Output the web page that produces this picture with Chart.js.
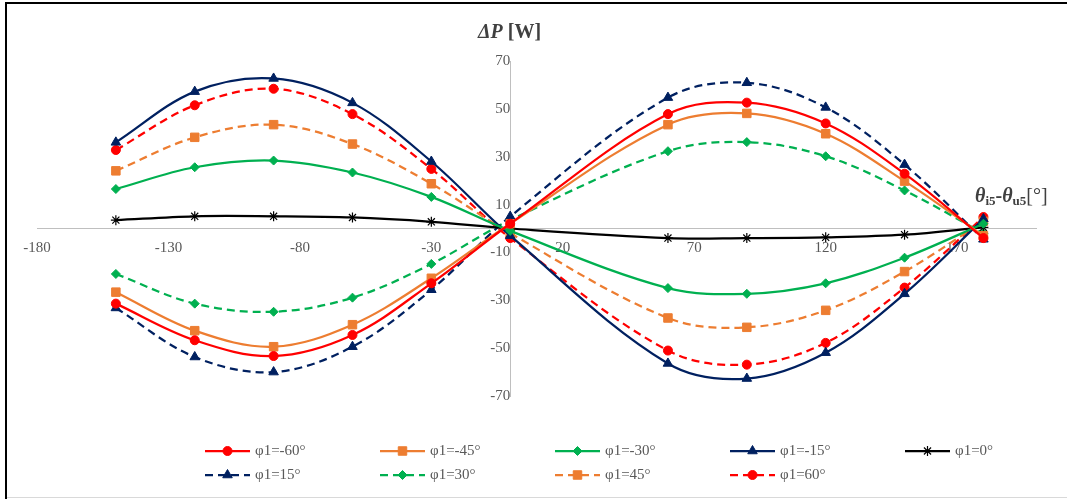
<!DOCTYPE html>
<html lang="en">
<head>
<meta charset="UTF-8">
<title>ΔP vs θi5-θu5</title>
<script src="https://cdn.jsdelivr.net/npm/chart.js"></script>
<style>
  html, body { margin: 0; padding: 0; background: #fff; }
  canvas { display: block; }
</style>
</head>
<body>
<canvas id="dpChart" width="1067" height="499"></canvas>
<script>
// x positions of the measured points (degrees)
const angles = [-150, -120, -90, -60, -30, 0, 60, 90, 120, 150, 180];
const xTicks = [-180, -130, -80, -30, 20, 70, 120, 170];
const yTicks = [-70, -50, -30, -10, 10, 30, 50, 70];

// ΔP [W] per phase angle φ1
const phiM60 = [-31.4, -46.7, -53.3, -44.5, -22.9, 2, 47.8, 52.6, 43.9, 22.9, -4];
const phiM45 = [-26.6, -42.7, -49.4, -40.2, -20.8, 2, 43.4, 48.1, 39.6, 19.8, -3];
const phiM30 = [16.5, 25.6, 28.4, 23.4, 13.2, -1, -24.9, -27.3, -22.9, -12.2, 2];
const phiM15 = [36.0, 57.2, 62.7, 52.5, 28.0, -3, -56.4, -62.7, -51.9, -27.3, 4];
const phi0   = [3.5, 5.1, 5.1, 4.6, 2.8, 0, -4.0, -4.0, -3.7, -2.6, 0.5];
const phi15  = [-33.2, -53.7, -60.0, -49.4, -25.6, 5, 54.7, 60.9, 50.6, 26.7, -4.5];
const phi30  = [-19.0, -31.4, -34.8, -28.9, -14.8, 3.5, 32.3, 36.1, 30.2, 15.9, -2];
const phi45  = [24.1, 38.1, 43.4, 35.3, 18.7, -2, -37.4, -41.3, -34.2, -18.0, 3];
const phi60  = [32.8, 51.5, 58.4, 47.8, 24.9, -4, -51.0, -56.9, -47.8, -24.7, 4.8];

const seriesLabels = ['φ1=-60°', 'φ1=-45°', 'φ1=-30°', 'φ1=-15°', 'φ1=0°',
                      'φ1=15°', 'φ1=30°', 'φ1=45°', 'φ1=60°'];
const seriesValues = [phiM60, phiM45, phiM30, phiM15, phi0, phi15, phi30, phi45, phi60];

const RED = '#ff0000', ORANGE = '#ed7d31', GREEN = '#00b050', NAVY = '#002060', BLACK = '#000000';
const DASH = [8, 5];
const styles = [
  { color: RED,    dash: [],   point: 'circle',   r: 4.5 },
  { color: ORANGE, dash: [],   point: 'rect',     r: 6 },
  { color: GREEN,  dash: [],   point: 'rectRot',  r: 4.5 },
  { color: NAVY,   dash: [],   point: 'triangle', r: 5.5 },
  { color: BLACK,  dash: [],   point: 'star',     r: 5 },
  { color: NAVY,   dash: DASH, point: 'triangle', r: 5.5 },
  { color: GREEN,  dash: DASH, point: 'rectRot',  r: 4.5 },
  { color: ORANGE, dash: DASH, point: 'rect',     r: 6 },
  { color: RED,    dash: DASH, point: 'circle',   r: 4.5 }
];

const datasets = seriesValues.map((vals, i) => {
  const s = styles[i];
  return {
    label: seriesLabels[i],
    data: angles.map((a, k) => ({ x: a, y: vals[k] })),
    borderColor: s.color,
    backgroundColor: s.point === 'star' ? '#ffffff' : s.color,
    borderWidth: 2.25,
    borderDash: s.dash,
    tension: 0.35,
    pointStyle: s.point,
    pointRadius: s.r,
    pointBorderColor: s.color,
    pointBackgroundColor: s.point === 'star' ? '#ffffff' : s.color,
    pointBorderWidth: s.point === 'star' ? 1.2 : 1
  };
});

function drawRuns(ctx, x, y, runs) {
  runs.forEach(r => {
    ctx.font = r.font;
    ctx.fillText(r.text, x, y + (r.dy || 0));
    x += ctx.measureText(r.text).width;
  });
}

const decorations = {
  id: 'decorations',
  beforeDraw(chart) {
    const ctx = chart.ctx;
    ctx.save();
    ctx.fillStyle = '#ffffff';
    ctx.fillRect(0, 0, chart.width, chart.height);
    ctx.strokeStyle = '#000000';
    ctx.lineWidth = 2;
    ctx.beginPath();
    ctx.moveTo(6, chart.height);
    ctx.lineTo(6, 3);
    ctx.lineTo(chart.width, 3);
    ctx.stroke();
    ctx.strokeStyle = '#d9d9d9';
    ctx.lineWidth = 1;
    ctx.beginPath();
    ctx.moveTo(7, 497.5);
    ctx.lineTo(chart.width, 497.5);
    ctx.stroke();
    ctx.restore();
  },
  afterDraw(chart) {
    const ctx = chart.ctx;
    ctx.save();
    ctx.fillStyle = '#404040';
    ctx.textBaseline = 'alphabetic';
    ctx.textAlign = 'left';
    // axis titles
    drawRuns(ctx, 478, 38, [
      { text: 'ΔP', font: 'italic bold 20px "Liberation Serif"' },
      { text: ' [W]', font: 'bold 20px "Liberation Serif"' }
    ]);
    drawRuns(ctx, 975, 202, [
      { text: 'θ', font: 'italic bold 20px "Liberation Serif"' },
      { text: 'i5', font: 'bold 13px "Liberation Serif"', dy: 3 },
      { text: '-', font: 'bold 20px "Liberation Serif"' },
      { text: 'θ', font: 'italic bold 20px "Liberation Serif"' },
      { text: 'u5', font: 'bold 13px "Liberation Serif"', dy: 3 },
      { text: '[°]', font: '20px "Liberation Serif"' }
    ]);

    // legend: 5 columns, 2 rows
    const colX = [205, 380, 555, 730, 905];
    const rowY = [451, 475];
    const drawPoint = Chart.helpers && Chart.helpers.drawPoint;
    chart.data.datasets.forEach((ds, i) => {
      const x = colX[i % 5], y = rowY[Math.floor(i / 5)];
      ctx.strokeStyle = ds.borderColor;
      ctx.lineWidth = ds.borderWidth;
      ctx.setLineDash(ds.borderDash);
      ctx.beginPath();
      ctx.moveTo(x, y);
      ctx.lineTo(x + 45, y);
      ctx.stroke();
      ctx.setLineDash([]);
      ctx.fillStyle = ds.pointBackgroundColor;
      ctx.strokeStyle = ds.pointBorderColor;
      ctx.lineWidth = ds.pointBorderWidth;
      if (drawPoint) {
        drawPoint(ctx, { pointStyle: ds.pointStyle, radius: ds.pointRadius, borderWidth: ds.pointBorderWidth, rotation: 0 }, x + 22.5, y);
      }
      ctx.fillStyle = '#595959';
      ctx.font = '15px "Liberation Serif"';
      ctx.textBaseline = 'middle';
      ctx.fillText(ds.label, x + 50, y);
    });
    ctx.restore();
  }
};

new Chart(document.getElementById('dpChart'), {
  type: 'line',
  data: { datasets: datasets },
  options: {
    responsive: false,
    animation: false,
    devicePixelRatio: 1,
    layout: { padding: { left: 37, right: 31, top: 61, bottom: 103 } },
    plugins: {
      legend: { display: false },
      tooltip: { enabled: false }
    },
    scales: {
      x: {
        type: 'linear',
        min: -180,
        max: 200,
        position: { y: 0 },
        afterFit: s => { s.height = 0; },
        afterBuildTicks: s => { s.ticks = xTicks.map(v => ({ value: v })); },
        grid: { drawOnChartArea: false, drawTicks: false },
        border: { display: true, color: '#bfbfbf', width: 1 },
        ticks: {
          padding: 11,
          maxRotation: 0,
          autoSkip: false,
          color: '#595959',
          font: { family: '"Liberation Serif"', size: 15 }
        }
      },
      y: {
        type: 'linear',
        min: -70,
        max: 70,
        position: { x: 0 },
        afterFit: s => { s.width = 0; },
        afterBuildTicks: s => { s.ticks = yTicks.map(v => ({ value: v })); },
        grid: { drawOnChartArea: false, drawTicks: false },
        border: { display: true, color: '#bfbfbf', width: 1 },
        ticks: {
          padding: 12,
          autoSkip: false,
          color: '#595959',
          font: { family: '"Liberation Serif"', size: 15 }
        }
      }
    }
  },
  plugins: [decorations]
});
</script>
</body>
</html>
